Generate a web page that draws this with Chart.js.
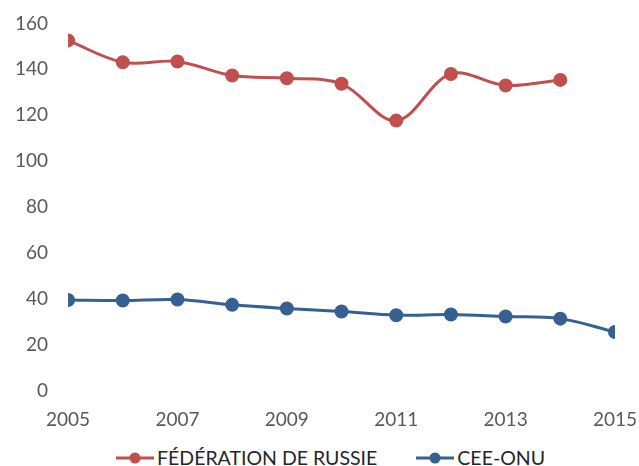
<!DOCTYPE html>
<html>
<head>
<meta charset="utf-8">
<script src="https://cdn.jsdelivr.net/npm/chart.js@4/dist/chart.umd.min.js"></script>
<style>
	html, body { margin: 0; padding: 0; background: #ffffff; }
	#wrap { position: relative; width: 639px; height: 466px; overflow: hidden; }
	#chart { display: block; }
	#legend {
		position: absolute; left: 0; top: 446px; width: 639px;
		display: flex; justify-content: center; align-items: center;
		padding-left: 22px; box-sizing: border-box;
		font-family: Lato, "Open Sans", sans-serif; font-size: 19.5px; line-height: 24px; color: #262626;
	}
	.item { display: flex; align-items: center; }
	.item + .item { margin-left: 39px; }
	.item canvas { margin-right: 3px; }
</style>
</head>
<body>
<div id="wrap">
	<canvas id="chart" width="639" height="441"></canvas>
	<div id="legend"></div>
</div>
<script>
const years = [2005, 2006, 2007, 2008, 2009, 2010, 2011, 2012, 2013, 2014, 2015];
const russia = [152.6, 143.1, 143.4, 137.3, 136.1, 133.7, 117.7, 138, 133, 135.4, null];
const unece = [39.6, 39.4, 39.8, 37.5, 35.9, 34.6, 33, 33.3, 32.4, 31.5, 25.7];
const seriesNames = ["FÉDÉRATION DE RUSSIE", "CEE-ONU"];
const seriesColors = ["#C0504D", "#376092"];

Chart.defaults.font.family = "Lato, 'Open Sans', sans-serif";
Chart.defaults.font.size = 19;
Chart.defaults.color = "#595959";

function legendMarker(color) {
	const c = document.createElement("canvas");
	c.width = 38;
	c.height = 14;
	const ctx = c.getContext("2d");
	ctx.strokeStyle = color;
	ctx.lineWidth = 3;
	ctx.beginPath();
	ctx.moveTo(0, 7);
	ctx.lineTo(38, 7);
	ctx.stroke();
	ctx.fillStyle = color;
	ctx.beginPath();
	ctx.arc(19, 7, 5.5, 0, Math.PI * 2);
	ctx.fill();
	return c;
}

const legendBox = document.getElementById("legend");
seriesNames.forEach((name, i) => {
	const item = document.createElement("div");
	item.className = "item";
	item.appendChild(legendMarker(seriesColors[i]));
	const label = document.createElement("span");
	label.textContent = name;
	item.appendChild(label);
	legendBox.appendChild(item);
});

const toPoints = values => years.map((y, i) => ({ x: y, y: values[i] })).filter(p => p.y !== null);

new Chart(document.getElementById("chart"), {
	type: "line",
	data: {
		datasets: [
			{
				label: seriesNames[0],
				data: toPoints(russia),
				borderColor: seriesColors[0],
				backgroundColor: seriesColors[0],
				borderWidth: 3,
				pointRadius: 5.5,
				tension: 0.35
			},
			{
				label: seriesNames[1],
				data: toPoints(unece),
				borderColor: seriesColors[1],
				backgroundColor: seriesColors[1],
				borderWidth: 3,
				pointRadius: 5.5,
				tension: 0.35
			}
		]
	},
	options: {
		responsive: false,
		animation: false,
		layout: { padding: { top: 13, left: 3, right: 1, bottom: 0 } },
		plugins: {
			tooltip: { enabled: false },
			legend: { display: false }
		},
		scales: {
			x: {
				type: "linear",
				min: 2005,
				max: 2015,
				grid: { display: false },
				border: { display: false },
				ticks: { stepSize: 2, callback: v => String(v), padding: 9.6 },
				afterFit: scale => { scale.paddingRight = 24; scale.paddingLeft = 0; }
			},
			y: {
				min: 0,
				max: 160,
				grid: { display: false },
				border: { display: false },
				ticks: { stepSize: 20, padding: 12 }
			}
		}
	}
});
</script>
</body>
</html>
